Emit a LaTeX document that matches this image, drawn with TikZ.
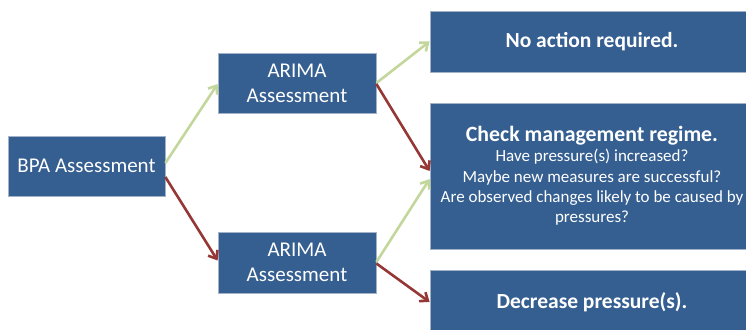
\documentclass[tikz,border=0pt]{standalone}
\usepackage{fontspec}
\setmainfont{Carlito}
\usetikzlibrary{arrows.meta}
\definecolor{boxblue}{HTML}{365F91}
\definecolor{boxedge}{HTML}{A3B2C8}
\definecolor{okgreen}{HTML}{C3D69B}
\definecolor{badred}{HTML}{953735}
\begin{document}
\begin{tikzpicture}[
  x=1pt, y=-1pt,
  box/.style={rectangle, draw=boxedge, fill=boxblue, text=white, line width=0.8pt,
              align=center, inner sep=2pt, font=\fontsize{21}{25}\selectfont},
  yes/.style={-{Straight Barb[length=7pt,width=11pt]}, line width=2.6pt, okgreen},
  no/.style={-{Straight Barb[length=7pt,width=11pt]}, line width=2.6pt, badred}
]
  \useasboundingbox (0,0) rectangle (746,329);
  \node[box, minimum width=157pt, minimum height=60pt] (bpa) at (86.5,166) {BPA Assessment};
  \node[box, minimum width=158pt, minimum height=60pt] (arimaA) at (297,83) {ARIMA\\Assessment};
  \node[box, minimum width=158pt, minimum height=61pt] (arimaB) at (297,262.5) {ARIMA\\Assessment};
  \node[box, minimum width=324pt, minimum height=61pt, font=\bfseries\fontsize{21.5}{25}\selectfont]
    (none) at (592,41.5) {No action required.};
  \node[box, minimum width=324pt, minimum height=146pt, font=\fontsize{17}{20.3}\selectfont]
    (check) at (592,176) {{\bfseries\fontsize{21.8}{21}\selectfont Check management regime.}\\
      Have pressure(s) increased?\\
      Maybe new measures are successful?\\
      Are observed changes likely to be caused by\\
      pressures?};
  \node[box, minimum width=324pt, minimum height=64pt, font=\bfseries\fontsize{21.5}{25}\selectfont]
    (decrease) at (592,302) {Decrease pressure(s).};

  % good outcome in green, bad outcome in red
  \draw[yes] ([yshift=3pt]bpa.east) -- ([yshift=-1pt]arimaA.west);
  \draw[no] ([yshift=-11pt]bpa.east) -- ([yshift=2pt]arimaB.west);
  \draw[yes] (arimaA.east) -- (none.west);
  \draw[no] ([yshift=-1pt]arimaA.east) -- ([yshift=5pt]check.west);
  \draw[yes] ([yshift=0.5pt]arimaB.east) -- ([yshift=-3pt]check.west);
  \draw[no] ([yshift=-1pt]arimaB.east) -- (decrease.west);
\end{tikzpicture}
\end{document}
